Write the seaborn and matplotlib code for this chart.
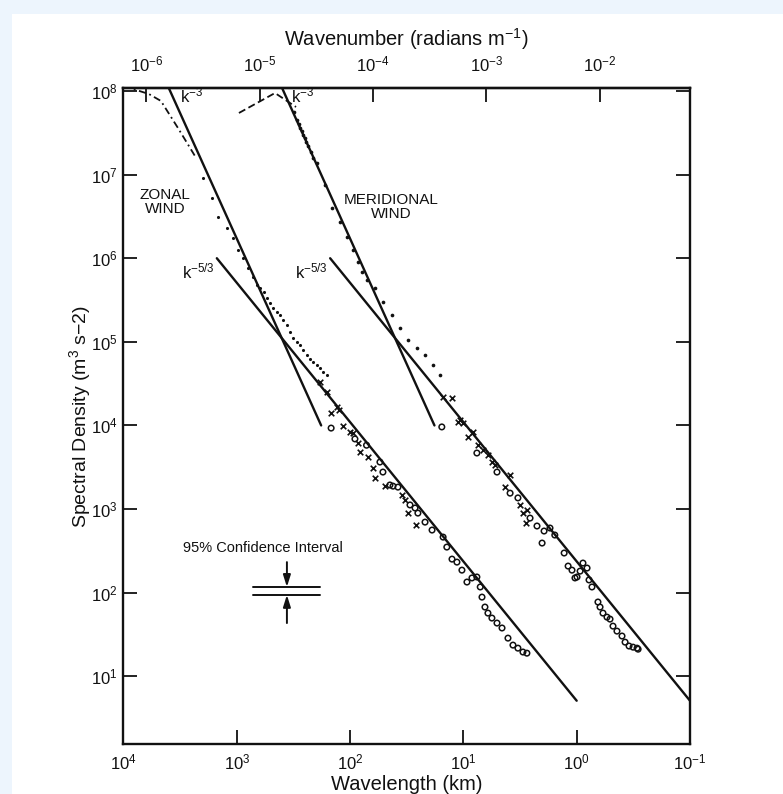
import numpy as np
import pandas as pd
import matplotlib
matplotlib.use("Agg")
import matplotlib.pyplot as plt
from matplotlib.patches import Rectangle
from matplotlib.ticker import NullLocator, FixedLocator
import seaborn as sns

# ---------------- data (wavelength in km, spectral density in m^3 s^-2) ----------------
zonal_dash_wl = [10000, 5960, 4670, 3300, 2340]
zonal_dash_sd = [1.15e8, 9.2e7, 7.6e7, 3.6e7, 1.67e7]

zonal_dot_wl = [1987, 1656, 1466, 1219, 1081, 975, 881, 796, 719, 664, 624, 580, 541, 510, 480,
                445, 416, 390, 361, 340, 319, 297, 277, 258, 240, 225, 212, 197, 184, 172, 160]
zonal_dot_sd = [9.1e6, 5.25e6, 3.11e6, 2.30e6, 1.75e6, 1.25e6, 1.0e6, 7.6e5, 5.96e5, 4.78e5,
                4.4e5, 3.9e5, 3.34e5, 2.9e5, 2.54e5, 2.3e5, 2.09e5, 1.8e5, 1.59e5, 1.3e5,
                1.11e5, 1.0e5, 9.2e4, 7.9e4, 6.95e4, 6.2e4, 5.7e4, 5.3e4, 4.86e4, 4.4e4, 4.0e4]

zonal_x_wl = [184, 160, 131, 147, 125, 116, 100, 94, 85, 82, 69.5, 62.8, 60.3, 49.2, 34.8,
              32.7, 30.8, 26.2]
zonal_x_sd = [3.3e4, 2.5e4, 1.66e4, 1.41e4, 1.53e4, 9.8e3, 8.3e3, 8.1e3, 6.15e3, 4.8e3, 4.19e3,
              3.09e3, 2.35e3, 1.88e3, 1.47e3, 1.28e3, 895, 644]

zonal_o_wl = [147, 90.6, 71.6, 54.5, 51.3, 44.5, 41.8, 37.8, 29.6, 26.7, 25.2, 21.8, 18.9, 15.1,
              14.0, 12.6, 11.4, 10.3, 9.3, 8.4, 7.6, 7.1, 6.85, 6.45, 6.07, 5.6, 5.05, 4.56,
              4.04, 3.65, 3.3, 2.98, 2.75]
zonal_o_sd = [9.3e3, 6.9e3, 5.8e3, 3.65e3, 2.77e3, 1.94e3, 1.88e3, 1.83e3, 1.12e3, 1.03e3, 895,
              698, 561, 462, 351, 252, 232, 186, 134, 150, 154, 117, 88.5, 67.3, 57, 49.7, 43.3,
              37.8, 28.6, 23.6, 21.7, 19.5, 18.9]

merid_dash_wl = [957, 460, 300]
merid_dash_sd = [5.46e7, 9.46e7, 6.44e7]

merid_dot_wl = [311, 294, 282, 277, 266, 261, 250, 245, 235, 221, 212, 196, 167, 145, 123, 106,
                94.2, 85.1, 78.5, 71, 60.3, 51.3, 42.7, 36.3, 30.8, 25.7, 21.8, 18.5, 16.1]
merid_dot_sd = [5.6e7, 4.5e7, 4.03e7, 3.6e7, 3.33e7, 2.98e7, 2.74e7, 2.45e7, 2.2e7, 1.86e7,
                1.58e7, 1.38e7, 7.5e6, 3.98e6, 2.71e6, 1.8e6, 1.25e6, 9.0e5, 6.84e5, 5.48e5,
                4.4e5, 2.99e5, 2.09e5, 1.46e5, 1.05e5, 8.4e4, 6.95e4, 5.3e4, 4.0e4]

merid_x_wl = [15.1, 12.6, 10.7, 11.2, 10.1, 9.1, 8.2, 7.4, 6.7, 6.07, 5.6, 5.26, 3.87, 4.3,
              3.16, 2.75, 2.98, 2.8]
merid_x_sd = [2.19e4, 2.13e4, 1.16e4, 1.1e4, 1.07e4, 7.3e3, 8.3e3, 5.8e3, 5.1e3, 4.4e3, 3.65e3,
              3.36e3, 2.55e3, 1.83e3, 1.12e3, 973, 895, 680]

merid_o_wl = [15.5, 7.6, 5.05, 3.87, 3.3, 2.58, 2.24, 1.94, 1.72, 2.02, 1.56, 1.29, 1.19, 1.10,
              0.993, 0.88, 0.81, 0.933, 1.035, 0.778, 0.733, 0.649, 0.622, 0.586, 0.54, 0.508,
              0.478, 0.441, 0.398, 0.374, 0.345, 0.318, 0.293, 0.287]
merid_o_sd = [9.6e3, 4.68e3, 2.77e3, 1.55e3, 1.36e3, 780, 627, 546, 593, 392, 489, 298, 208, 186,
              154, 226, 197, 181, 150, 142, 117, 77.3, 67.3, 57, 51, 48.3, 39.8, 34.7, 30.3,
              25.6, 23.0, 22.3, 21.7, 21.1]

# reference power laws (end points)
k3_zonal_wl = [4000, 180]
k3_zonal_sd = [1.1e8, 1.0e4]
k53_zonal_wl = [1500, 1.0]
k53_zonal_sd = [1.0e6, 5.1]
k3_merid_wl = [400, 18]
k3_merid_sd = [1.1e8, 1.0e4]
k53_merid_wl = [150, 0.1]
k53_merid_sd = [1.0e6, 5.1]

# 95% confidence interval glyph
ci_sd = [94, 117]
ci_wl = [720, 184]
ci_arrow_wl = 361
ci_arrow_tail_sd = [232, 43.3]

x_ticks = [1e4, 1e3, 1e2, 1e1, 1e0, 1e-1]
x_ticklabels = [r"$10^{4}$", r"$10^{3}$", r"$10^{2}$", r"$10^{1}$", r"$10^{0}$", r"$10^{-1}$"]
y_ticks = [1e1, 1e2, 1e3, 1e4, 1e5, 1e6, 1e7, 1e8]
y_ticklabels = [r"$10^{%d}$" % i for i in range(1, 9)]
k_ticks = [1e-6, 1e-5, 1e-4, 1e-3, 1e-2]
k_ticklabels = [r"$10^{-6}$", r"$10^{-5}$", r"$10^{-4}$", r"$10^{-3}$", r"$10^{-2}$"]

# ---------------- style ----------------
sns.set_style("ticks")
plt.rcParams["font.family"] = ["Liberation Sans", "DejaVu Sans"]
plt.rcParams["mathtext.fontset"] = "custom"
plt.rcParams["mathtext.rm"] = "Liberation Sans"
plt.rcParams["mathtext.it"] = "Liberation Sans"
plt.rcParams["mathtext.default"] = "regular"

fig = plt.figure(figsize=(7.83, 7.94), dpi=100)
fig.patch.set_facecolor("#edf5fd")
fig.add_artist(Rectangle((12 / 783, 0), 1 - 12 / 783, 1 - 14 / 794, transform=fig.transFigure,
                         facecolor="white", edgecolor="none", zorder=-10))

ax = fig.add_axes([0.1577, 0.063, 0.7235, 0.8262])
ax.set_facecolor("white")
ax.set_xscale("log")
ax.set_yscale("log")

K = "#111111"

def line(wl, sd, **kw):
    df = pd.DataFrame({"wl": wl, "sd": sd})
    sns.lineplot(data=df, x="wl", y="sd", ax=ax, sort=False, estimator=None, color=K, **kw)

line(k3_zonal_wl, k3_zonal_sd, lw=1.7)
line(k53_zonal_wl, k53_zonal_sd, lw=1.7)
line(k3_merid_wl, k3_merid_sd, lw=1.7)
line(k53_merid_wl, k53_merid_sd, lw=1.7)
line(zonal_dash_wl, zonal_dash_sd, lw=1.3, dashes=(4, 2, 1, 2))
line(merid_dash_wl, merid_dash_sd, lw=1.3, dashes=(4, 2))

def pts(wl, sd, marker, s, **kw):
    df = pd.DataFrame({"wl": wl, "sd": sd})
    sns.scatterplot(data=df, x="wl", y="sd", ax=ax, marker=marker, s=s, zorder=3, **kw)

pts(zonal_dot_wl, zonal_dot_sd, "o", 5, color=K, linewidth=0)
pts(merid_dot_wl, merid_dot_sd, "o", 7, color=K, linewidth=0)
pts(zonal_x_wl, zonal_x_sd, "x", 16, color=K, linewidth=1.2)
pts(merid_x_wl, merid_x_sd, "x", 16, color=K, linewidth=1.2)
pts(zonal_o_wl, zonal_o_sd, "o", 16, facecolor="none", edgecolor=K, linewidth=1.1)
pts(merid_o_wl, merid_o_sd, "o", 16, facecolor="none", edgecolor=K, linewidth=1.1)

# confidence interval glyph
for v in ci_sd:
    line(ci_wl, [v, v], lw=1.4)
ax.annotate("", xy=(ci_arrow_wl, ci_sd[1]), xytext=(ci_arrow_wl, ci_arrow_tail_sd[0]),
            arrowprops=dict(arrowstyle="-|>,head_length=0.7,head_width=0.22", color=K, lw=1.4,
                            shrinkA=0, shrinkB=0))
ax.annotate("", xy=(ci_arrow_wl, ci_sd[0]), xytext=(ci_arrow_wl, ci_arrow_tail_sd[1]),
            arrowprops=dict(arrowstyle="-|>,head_length=0.7,head_width=0.22", color=K, lw=1.4,
                            shrinkA=0, shrinkB=0))

# axes
ax.set_xlim(1e4, 1e-1)
ax.set_ylim(1.55, 1.087e8)
ax.xaxis.set_major_locator(FixedLocator(x_ticks))
ax.set_xticklabels(x_ticklabels)
ax.yaxis.set_major_locator(FixedLocator(y_ticks))
ax.set_yticklabels(y_ticklabels)
ax.xaxis.set_minor_locator(NullLocator())
ax.yaxis.set_minor_locator(NullLocator())
ax.tick_params(axis="both", which="major", direction="in", length=10, width=1.3,
               labelsize=12, colors=K, pad=6)
ax.tick_params(axis="y", pad=4, right=True, labelright=False)
for sp in ax.spines.values():
    sp.set_linewidth(1.7)
    sp.set_color(K)

ax.set_xlabel("Wavelength (km)", fontsize=14.5, color=K, labelpad=2)
ax.set_ylabel("Spectral Density (m$^3$ s\u22122)", fontsize=14, color=K, labelpad=-1)

def l2k(l):
    l = np.asarray(l, dtype=float)
    with np.errstate(divide="ignore"):
        return 2 * np.pi / (l * 1000.0)

sec = ax.secondary_xaxis("top", functions=(l2k, l2k))
sec.xaxis.set_major_locator(FixedLocator(k_ticks))
sec.set_xticklabels(k_ticklabels)
sec.xaxis.set_minor_locator(NullLocator())
sec.tick_params(axis="x", which="major", direction="in", length=10, width=1.3,
                labelsize=12, colors=K, pad=10)
sec.spines["top"].set_linewidth(1.7)
sec.set_xlabel("Wavenumber (radians m$^{-1}$)", fontsize=14.5, color=K, labelpad=6)

# annotations
tk = dict(transform=ax.transAxes, color=K)
ax.text(0.0997, 0.978, r"k$^{-3}$", fontsize=12, va="baseline", ha="left", **tk)
ax.text(0.2957, 0.978, r"k$^{-3}$", fontsize=12, va="baseline", ha="left", **tk)
ax.text(0.1033, 0.7104, r"k$^{-5/3}$", fontsize=12, va="baseline", ha="left", **tk)
ax.text(0.3027, 0.7104, r"k$^{-5/3}$", fontsize=12, va="baseline", ha="left", **tk)
ax.text(0.0733, 0.826, "ZONAL\nWIND", fontsize=11, ha="center", va="center",
        linespacing=1.05, **tk)
ax.text(0.4722, 0.8186, "MERIDIONAL\nWIND", fontsize=11, ha="center", va="center",
        linespacing=1.05, **tk)
ax.text(0.105, 0.2988, "95% Confidence Interval", fontsize=10.5, ha="left", va="center", **tk)

fig.savefig("out.png", dpi=100, facecolor=fig.get_facecolor())
